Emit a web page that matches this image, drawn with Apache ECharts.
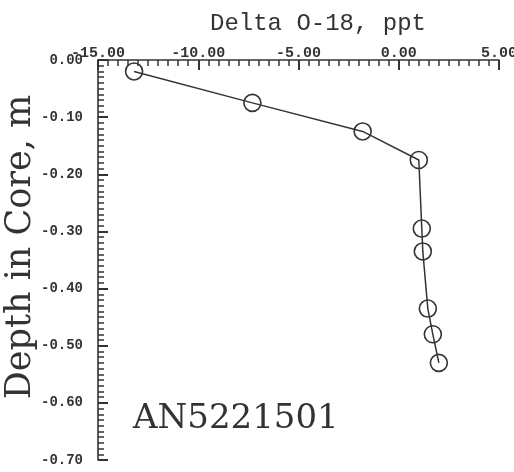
<!DOCTYPE html>
<html>
<head>
<meta charset="utf-8">
<script src="https://cdn.jsdelivr.net/npm/echarts@6/dist/echarts.min.js"></script>
<style>
html, body { margin: 0; padding: 0; background: #fff; }
#core-chart { width: 514px; height: 472px; }
</style>
</head>
<body>
<div id="core-chart"></div>
<script>
// Delta O-18 profile, core AN5221501
var delta18 = [-13.2, -7.3, -1.8, 1.0, 1.15, 1.2, 1.45, 1.7, 2.0];
var depth = [-0.02, -0.075, -0.125, -0.175, -0.295, -0.335, -0.435, -0.48, -0.53];
var coreName = 'AN5221501';

var ink = '#333';
var monoFont = 'Liberation Mono';

function coreAxis(min, max, step, pos, margin, size) {
    return {
        type: 'value',
        position: pos,
        min: min,
        max: max,
        interval: step,
        axisLine: { show: true, onZero: false, lineStyle: { color: ink, width: 1.6 } },
        axisTick: { show: true, inside: true, length: 10, lineStyle: { color: ink, width: 2 } },
        minorTick: { show: true, splitNumber: 10, length: 6, lineStyle: { color: ink, width: 1.5 } },
        splitLine: { show: false },
        axisLabel: {
            margin: margin,
            color: ink,
            fontFamily: monoFont,
            fontWeight: 'bold',
            fontSize: size,
            formatter: function (v) { return v.toFixed(2); }
        }
    };
}

function coreOption() {
    var pts = [];
    for (var i = 0; i < delta18.length; i++) {
        pts.push([delta18[i], depth[i]]);
    }
    var option = {
        backgroundColor: '#fff',
        animation: false,
        title: {
            text: 'Delta O-18, ppt',
            left: 313,
            top: 7,
            textAlign: 'center',
            textStyle: {
                color: ink,
                fontFamily: monoFont,
                fontWeight: 'normal',
                fontSize: 24
            }
        },
        grid: {
            left: 98,
            right: 15,
            top: 60,
            bottom: 12,
            outerBoundsMode: 'none'
        },
        xAxis: coreAxis(-15, 5, 5, 'top', -1, 15),
        yAxis: coreAxis(-0.7, 0, 0.1, 'left', 15, 14),
        graphic: [{
            type: 'text',
            x: 21,
            y: 247,
            rotation: Math.PI / 2,
            style: {
                text: 'Depth in Core, m',
                fill: ink,
                font: '35px "DejaVu Serif"',
                textAlign: 'center',
                textVerticalAlign: 'middle'
            }
        }, {
            type: 'text',
            left: 133,
            top: 402,
            style: {
                text: coreName,
                fill: ink,
                font: '34px "DejaVu Serif"'
            }
        }],
        series: [{
            type: 'line',
            data: pts,
            symbol: 'circle',
            symbolSize: 17,
            showAllSymbol: true,
            lineStyle: { color: ink, width: 1.5 },
            itemStyle: { color: 'rgba(0,0,0,0)', borderColor: ink, borderWidth: 1.6 }
        }]
    };
    return option;
}

var coreChart = echarts.init(document.getElementById('core-chart'));
coreChart.setOption(coreOption());
</script>
</body>
</html>
